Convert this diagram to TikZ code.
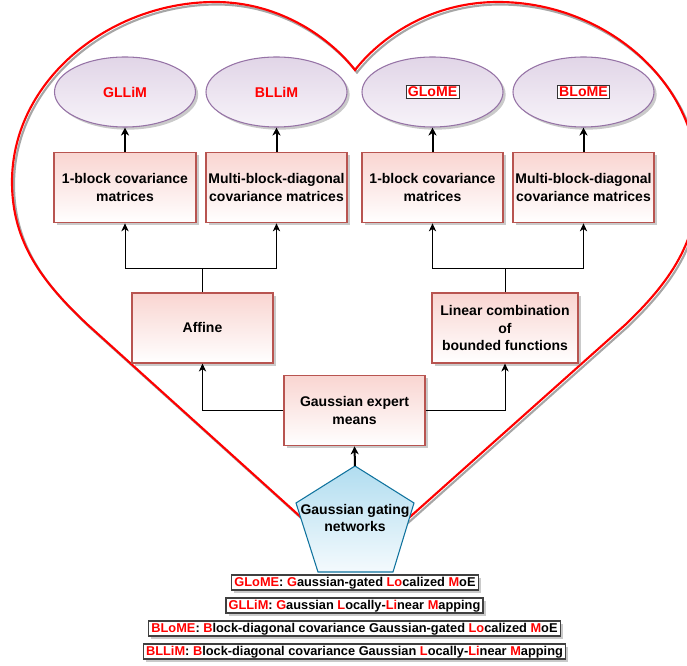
\documentclass[tikz,border=0pt]{standalone}
\usepackage{fontspec}
\setmainfont{Liberation Sans}
\usetikzlibrary{arrows.meta,shadows,shapes.geometric}
\definecolor{boxtop}{HTML}{F9D5D1}
\definecolor{boxline}{HTML}{B85450}
\definecolor{elltop}{HTML}{E1D5E7}
\definecolor{ellbot}{HTML}{F7F3F9}
\definecolor{ellline}{HTML}{9673A6}
\definecolor{pentop}{HTML}{B1DDF0}
\definecolor{penbot}{HTML}{F4FAFD}
\definecolor{penline}{HTML}{10739E}
\definecolor{heartred}{HTML}{FF0000}
\newcommand{\rd}[1]{{\color{red}#1}}
\setlength{\fboxsep}{1pt}
\setlength{\fboxrule}{0.7pt}
\tikzset{
  x=0.75pt, y=-0.75pt,
  shad/.style={drop shadow={shadow xshift=2pt, shadow yshift=-2pt, fill=black!60, opacity=0.35}},
  box/.style={shad, draw=boxline, line width=0.8pt, top color=boxtop, bottom color=white,
    minimum height=53pt, align=center, inner sep=1pt,
    font=\fontsize{10.5}{13}\selectfont\bfseries},
  ell/.style={shad, ellipse, draw=ellline, line width=0.8pt, top color=elltop, bottom color=ellbot,
    minimum width=105.75pt, minimum height=52.5pt, inner sep=0pt,
    font=\fontsize{10.6}{13}\selectfont\bfseries, text=red},
  legend/.style={shad, draw=black!75, line width=0.9pt, fill=white, inner xsep=2pt, inner ysep=1pt,
    text height=7.3pt, text depth=2pt, font=\fontsize{9.6}{11}\selectfont\bfseries},
  thickarr/.style={line width=1.5pt, -{Stealth[length=6pt,width=6pt,inset=1.8pt]}},
  thinarr/.style={line width=0.75pt, -{Stealth[length=6pt,width=5.5pt,inset=1.8pt]}},
  thinline/.style={line width=0.75pt},
}
\begin{document}
\begin{tikzpicture}
\useasboundingbox (0,0) rectangle (687,666);
% heart
\begin{scope}
\clip (0,0) rectangle (687,666);
\draw[line width=1.6pt, black!35, shift={(2,2.5)}]
  (355,566) -- (88,325) .. controls (42,282) and (12,242) .. (12,182)
  .. controls (12,80) and (110,2) .. (215,2)
  .. controls (280,2) and (330,38) .. (355,70)
  .. controls (380,38) and (430,2) .. (498,2)
  .. controls (603,2) and (698,80) .. (698,182)
  .. controls (698,242) and (670,282) .. (625,325) -- cycle;
\draw[line width=1.6pt, heartred, line join=miter]
  (355,566) -- (88,325) .. controls (42,282) and (12,242) .. (12,182)
  .. controls (12,80) and (110,2) .. (215,2)
  .. controls (280,2) and (330,38) .. (355,70)
  .. controls (380,38) and (430,2) .. (498,2)
  .. controls (603,2) and (698,80) .. (698,182)
  .. controls (698,242) and (670,282) .. (625,325) -- cycle;
\end{scope}
% ellipses
\node[ell] (e1) at (125,92) {GLLiM};
\node[ell] (e2) at (276.5,92) {BLLiM};
\node[ell] (e3) at (432.5,92) {\fcolorbox{black!80}{white}{GLoME}};
\node[ell] (e4) at (583.5,92) {\fcolorbox{black!80}{white}{BLoME}};
% covariance boxes
\node[box, minimum width=106.5pt] (b1) at (125,187.5) {1-block covariance\\matrices};
\node[box, minimum width=105.75pt] (b2) at (276.5,187.5) {Multi-block-diagonal\\covariance matrices};
\node[box, minimum width=105.75pt] (b3) at (432.5,187.5) {1-block covariance\\matrices};
\node[box, minimum width=105.75pt] (b4) at (583.5,187.5) {Multi-block-diagonal\\covariance matrices};
% mean boxes
\node[box, minimum width=105.75pt, minimum height=52.5pt] (aff) at (202.5,328) {Affine};
\node[box, minimum width=109.5pt, minimum height=52.5pt] (lin) at (505,328) {Linear combination\\of\\bounded functions};
\node[box, minimum width=105.75pt] (gem) at (354.5,410.5) {Gaussian expert\\means};
% pentagon
\coordinate (gtop) at (355,466);
\path[draw=penline, line width=0.8pt, top color=pentop, bottom color=penbot]
  (355,466) -- (414,503) -- (393,572) -- (318,572) -- (296,503) -- cycle;
\node[align=center, font=\fontsize{10.5}{13}\selectfont\bfseries] (gate) at (355,518) {Gaussian gating\\networks};
% connectors
\draw[thickarr] (b1.north) -- (e1.south);
\draw[thickarr] (b2.north) -- (e2.south);
\draw[thickarr] (b3.north) -- (e3.south);
\draw[thickarr] (b4.north) -- (e4.south);
\coordinate (jl) at (202.5,269);
\coordinate (jr) at (505,269);
\draw[thinline] (aff.north) -- (jl);
\draw[thinarr] (jl) -| (b1.south);
\draw[thinarr] (jl) -| (b2.south);
\draw[thinline] (lin.north) -- (jr);
\draw[thinarr] (jr) -| (b3.south);
\draw[thinarr] (jr) -| (b4.south);
\draw[thinarr] (gem.west) -| (aff.south);
\draw[thinarr] (gem.east) -| (lin.south);
\draw[thickarr] (gtop) -- (gem.south);
% legends
\node[legend] (l1) at (355,582.5) {\rd{GLoME}: \rd{G}aussian-gated \rd{Lo}calized \rd{M}oE};
\node[legend] (l2) at (354.5,605.5) {\rd{GLLiM}: \rd{G}aussian \rd{L}ocally-\rd{Li}near \rd{M}apping};
\node[legend] (l3) at (354.5,628.5) {\rd{BLoME}: \rd{B}lock-diagonal covariance Gaussian-gated \rd{Lo}calized \rd{M}oE};
\node[legend] (l4) at (354.5,651.5) {\rd{BLLiM}: \rd{B}lock-diagonal covariance Gaussian \rd{L}ocally-\rd{Li}near \rd{M}apping};
\end{tikzpicture}
\end{document}
